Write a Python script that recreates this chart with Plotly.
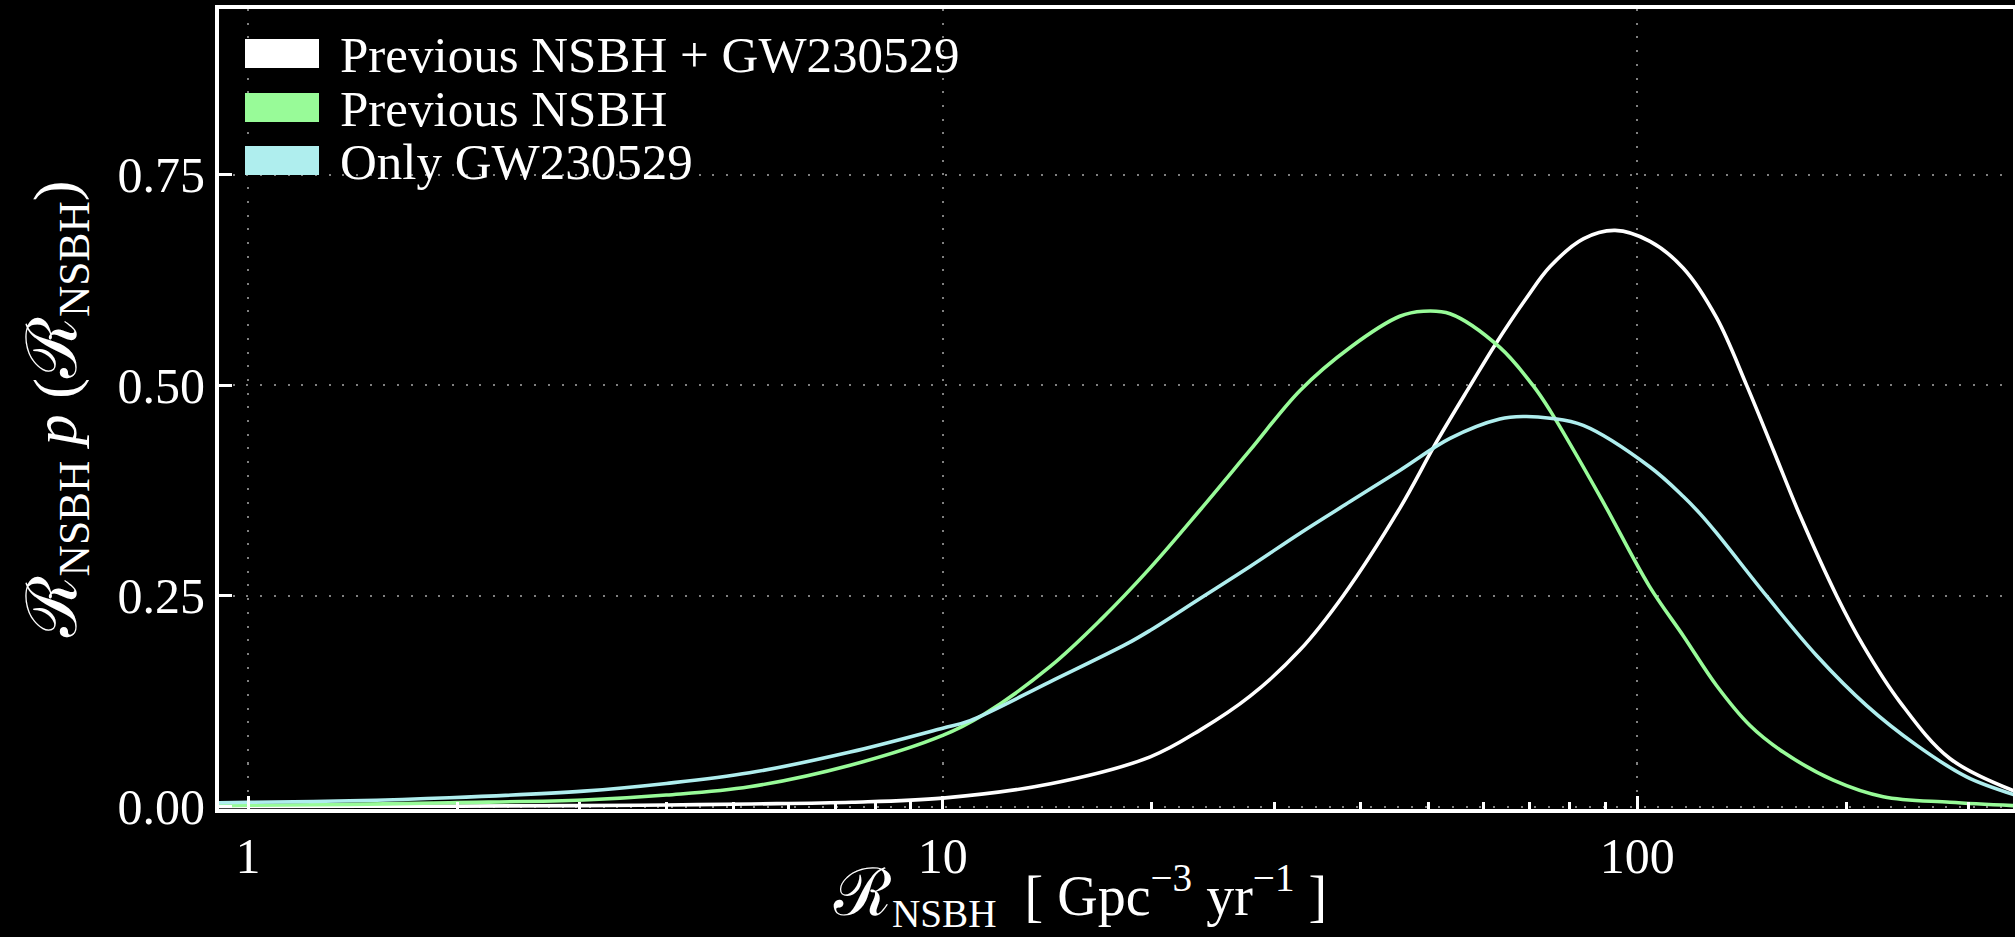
import plotly.graph_objects as go

# Merger-rate posteriors, R * p(R), read on a log-spaced rate grid [Gpc^-3 yr^-1]
rate_combined = [0.9, 1, 2, 3, 4, 5.3, 7.4, 10, 14.3, 19.9, 23.5, 27.7, 32.7, 37.7, 45.5,
                 51.5, 57.7, 62.4, 69.3, 74.9, 83.6, 92.9, 104.3, 116.5, 130.1, 143.7, 157,
                 171.4, 193.7, 211.5, 238.9, 281.8, 350]
dens_combined = [0.0, 0.0, 0.0005, 0.001, 0.0018, 0.003, 0.005, 0.010, 0.027, 0.059, 0.091,
                 0.131, 0.186, 0.250, 0.354, 0.434, 0.502, 0.548, 0.604, 0.641, 0.674, 0.684,
                 0.671, 0.639, 0.580, 0.500, 0.423, 0.346, 0.250, 0.191, 0.124, 0.057, 0.018]

rate_previous = [0.9, 1, 1.4, 1.95, 3.04, 4.0, 5.27, 7.36, 10, 11.44, 14.27, 16.85, 19.88,
                 23.47, 27.7, 32.7, 38.6, 45.5, 49.2, 53.75, 63.4, 70.8, 74.9, 88.4, 104,
                 116.5, 130.1, 145.3, 162.2, 191.5, 226, 281.8, 350]
dens_previous = [0.001, 0.0015, 0.0025, 0.0045, 0.0077, 0.0136, 0.0234, 0.049, 0.0844, 0.109,
                 0.166, 0.221, 0.283, 0.352, 0.423, 0.494, 0.545, 0.582, 0.588, 0.585, 0.545,
                 0.4996, 0.470, 0.368, 0.262, 0.2025, 0.1434, 0.0962, 0.0647, 0.0313, 0.0116,
                 0.005, 0.001]

rate_only = [0.9, 1.0, 1.4, 1.95, 3.04, 4.0, 5.27, 7.36, 10, 10.95, 14.27, 18.4, 19.88, 23.47,
             27.7, 32.7, 38.6, 45.5, 53.75, 63.4, 68.5, 74.9, 83.6, 104.3, 116.5, 123, 130.1,
             153.6, 181.3, 213.9, 252.6, 298, 350]
dens_only = [0.0045, 0.005, 0.0068, 0.0104, 0.0183, 0.0274, 0.040, 0.0647, 0.093, 0.102,
             0.148, 0.193, 0.209, 0.247, 0.285, 0.3245, 0.362, 0.399, 0.437, 0.460, 0.463,
             0.461, 0.4524, 0.403, 0.368, 0.348, 0.3245, 0.2497, 0.179, 0.1198, 0.0726,
             0.0352, 0.0136]

series_labels = ["Previous NSBH + GW230529", "Previous NSBH", "Only GW230529"]
series_colors = ["#ffffff", "#98fb98", "#afeeee"]

x_tick_values = [1, 10, 100]
x_tick_labels = ["1", "10", "100"]
x_minor_values = [2, 3, 4, 5, 6, 7, 8, 9, 20, 30, 40, 50, 60, 70, 80, 90, 200, 300]
y_tick_values = [0, 0.25, 0.5, 0.75]
y_tick_labels = ["0.00", "0.25", "0.50", "0.75"]

FONT = "Liberation Serif, DejaVu Serif, serif"
W, H = 2015, 937
ML, MR, MT, MB = 219, 2, 9, 128

fig = go.Figure()
for xs, ys, name, col in zip([rate_combined, rate_previous, rate_only],
                             [dens_combined, dens_previous, dens_only],
                             series_labels, series_colors):
    fig.add_trace(go.Scatter(x=xs, y=ys, mode="lines", name=name, showlegend=False,
                             line=dict(color=col, width=3.6, shape="spline", smoothing=1.0)))


def px_to_paper(px, py):
    return (px - ML) / (W - ML - MR), (H - MB - py) / (H - MT - MB)


# Legend with filled colour patches
legend_rows = [(39, 68), (93, 122), (146, 175)]
for (top, bot), name, col in zip(legend_rows, series_labels, series_colors):
    x0, y1 = px_to_paper(245, top)
    x1, y0 = px_to_paper(319, bot)
    fig.add_shape(type="rect", xref="paper", yref="paper", x0=x0, x1=x1, y0=y0, y1=y1,
                  fillcolor=col, line=dict(width=0), layer="above")
    tx, ty = px_to_paper(338, (top + bot) / 2 + 1)
    fig.add_annotation(xref="paper", yref="paper", x=tx, y=ty, text=name, showarrow=False,
                       xanchor="left", yanchor="middle",
                       font=dict(family=FONT, size=51, color="white"))

axis_common = dict(
    showline=True, linecolor="white", linewidth=4, mirror=True,
    ticks="inside", ticklen=13, tickwidth=3, tickcolor="white",
    showgrid=True, gridcolor="#808080", gridwidth=2, griddash="2px,11.7px",
    zeroline=False, tickfont=dict(family=FONT, size=50, color="white"),
)

R_SYM = '<span style="font-size:66px">ℛ</span>'
R_SYM_Y = '<span style="font-size:70px">ℛ</span>'

# x-axis label, placed as an annotation below the tick labels
xt_x, xt_y = px_to_paper(1080, 896)
fig.add_annotation(xref="paper", yref="paper", x=xt_x, y=xt_y, showarrow=False,
                   xanchor="center", yanchor="middle",
                   text=f"{R_SYM}<sub>NSBH</sub>  [ Gpc<sup>−3</sup> yr<sup>−1</sup> ]",
                   font=dict(family=FONT, size=56, color="white"))

fig.update_xaxes(
    type="log", range=[-0.0419, 2.5409],
    tickmode="array", tickvals=x_tick_values, ticktext=x_tick_labels,
    minor=dict(tickmode="array", tickvals=x_minor_values, ticks="inside", ticklen=7,
               tickwidth=2.5, tickcolor="white", showgrid=False),
    **axis_common,
)
fig.update_yaxes(
    range=[-0.00295, 0.9468],
    tickmode="array", tickvals=y_tick_values, ticktext=y_tick_labels,
    title=dict(text=f"{R_SYM_Y}<sub>NSBH</sub> <i>p</i> ({R_SYM_Y}<sub>NSBH</sub>)",
               font=dict(family=FONT, size=62, color="white"), standoff=22),
    **axis_common,
)

fig.update_layout(
    width=W, height=H,
    margin=dict(l=ML, r=MR, t=MT, b=MB, autoexpand=False),
    paper_bgcolor="black", plot_bgcolor="black",
    showlegend=False,
)

fig.write_html("out.html")
